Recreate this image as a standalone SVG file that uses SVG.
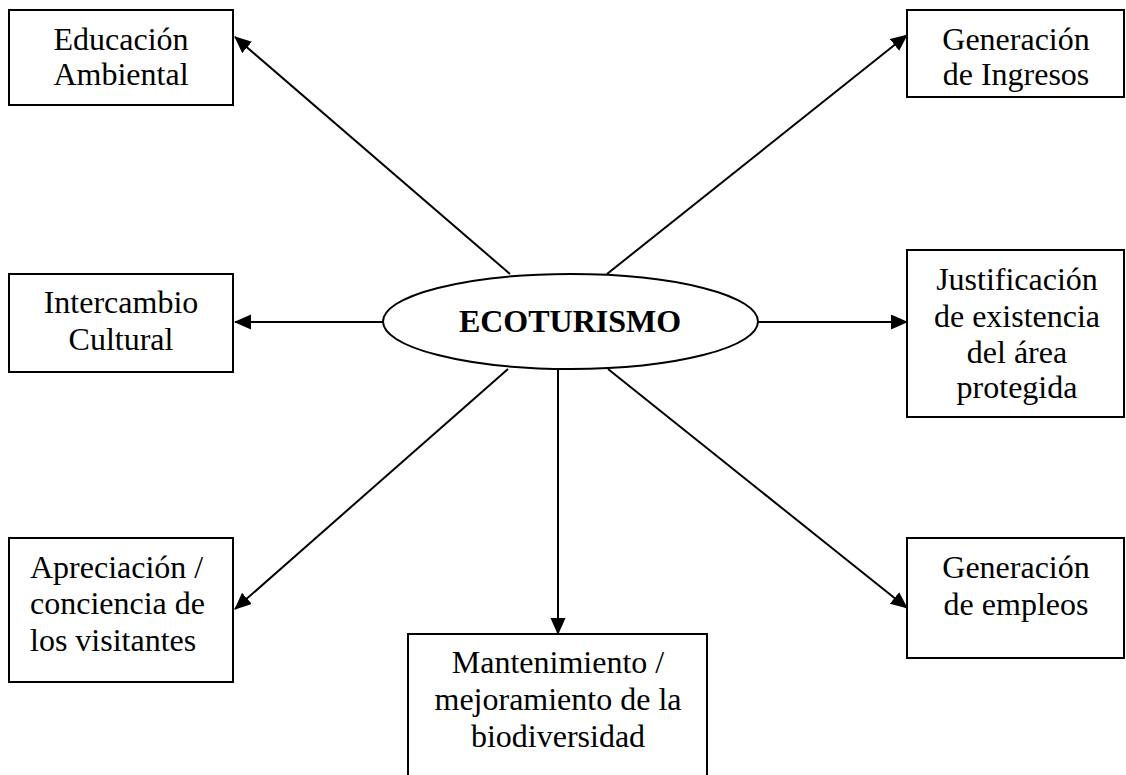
<svg xmlns="http://www.w3.org/2000/svg" width="1126" height="775" viewBox="0 0 1126 775">
<style>
.box{fill:#fff;stroke:#000;stroke-width:2}
.t{font-family:"Liberation Serif","Times New Roman",serif;font-size:32px;fill:#000}
.c{text-anchor:middle}
.edge{stroke:#000;stroke-width:2;fill:none;marker-end:url(#ah)}
</style>
<defs>
<marker id="ah" markerUnits="userSpaceOnUse" markerWidth="18" markerHeight="16" refX="16" refY="7.5" orient="auto">
<path d="M0,0 L17,7.5 L0,15 Z" fill="#000"/>
</marker>
</defs>
<rect width="1126" height="775" fill="#fff"/>
<g id="connectors">
<line class="edge" x1="510" y1="274" x2="235" y2="37"/>
<line class="edge" x1="607" y1="274" x2="907" y2="35"/>
<line class="edge" x1="383" y1="322" x2="235" y2="322"/>
<line class="edge" x1="758" y1="322" x2="907" y2="322"/>
<line class="edge" x1="508" y1="369" x2="235" y2="609"/>
<line class="edge" x1="558" y1="370" x2="558" y2="634"/>
<line class="edge" x1="608" y1="369" x2="907" y2="608"/>
</g>
<g id="ecoturismo">
<ellipse cx="570.5" cy="321.5" rx="187.5" ry="47.5" fill="#fff" stroke="#000" stroke-width="2"/>
<text class="t c" x="570" y="332" font-weight="bold">ECOTURISMO</text>
</g>
<g id="educacion">
<rect class="box" x="9" y="10" width="224" height="95"/>
<text class="t c" x="121" y="50">Educación</text>
<text class="t c" x="121" y="85">Ambiental</text>
</g>
<g id="ingresos">
<rect class="box" x="907" y="10" width="217" height="87"/>
<text class="t c" x="1016" y="50">Generación</text>
<text class="t c" x="1016" y="85">de Ingresos</text>
</g>
<g id="intercambio">
<rect class="box" x="9" y="274" width="224" height="98"/>
<text class="t c" x="121" y="313">Intercambio</text>
<text class="t c" x="121" y="350">Cultural</text>
</g>
<g id="justificacion">
<rect class="box" x="907" y="250" width="217" height="167"/>
<text class="t c" x="1017" y="290">Justificación</text>
<text class="t c" x="1017" y="327">de existencia</text>
<text class="t c" x="1017" y="363">del área</text>
<text class="t c" x="1017" y="398">protegida</text>
</g>
<g id="apreciacion">
<rect class="box" x="9" y="538" width="224" height="144"/>
<text class="t" x="30" y="578">Apreciación /</text>
<text class="t" x="30" y="614">conciencia de</text>
<text class="t" x="30" y="651">los visitantes</text>
</g>
<g id="mantenimiento">
<rect class="box" x="408" y="634" width="299" height="160"/>
<text class="t c" x="558" y="673">Mantenimiento /</text>
<text class="t c" x="558" y="710">mejoramiento de la</text>
<text class="t c" x="558" y="747">biodiversidad</text>
</g>
<g id="empleos">
<rect class="box" x="907" y="538" width="217" height="120"/>
<text class="t c" x="1016" y="578">Generación</text>
<text class="t c" x="1016" y="615">de empleos</text>
</g>
</svg>
